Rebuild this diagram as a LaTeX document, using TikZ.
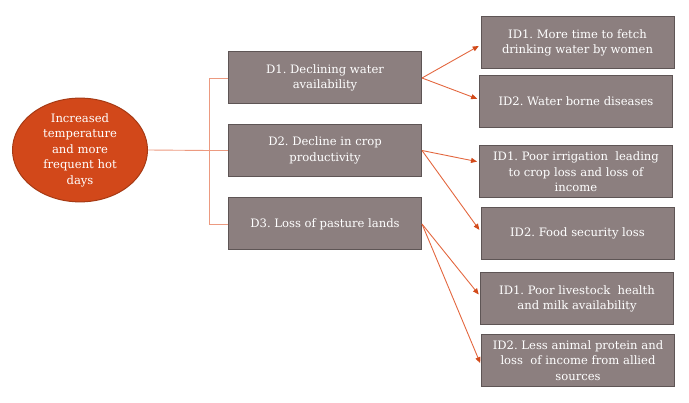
\documentclass[tikz,border=0pt]{standalone}
\usepackage{fontspec}
\setmainfont{DejaVu Serif}
\frenchspacing
\usetikzlibrary{arrows.meta,shapes.geometric}
\definecolor{boxfill}{HTML}{8C7F7F}
\definecolor{boxline}{HTML}{5E5555}
\definecolor{ellfill}{HTML}{D2481A}
\definecolor{ellline}{HTML}{A63A14}
\definecolor{treeline}{HTML}{EC9A80}
\definecolor{arrline}{HTML}{E3673F}
\definecolor{arrtip}{HTML}{D24A1A}
\begin{document}
\begin{tikzpicture}[x=1pt,y=-1pt,
  box/.style={draw=boxline, line width=1pt, fill=boxfill, text=white, align=center,
    font=\fontsize{11.6}{15.5}\selectfont, minimum width=193pt, minimum height=52pt, inner sep=2pt},
  ell/.style={ellipse, draw=ellline, line width=1pt, fill=ellfill, text=white, align=center,
    font=\fontsize{11.6}{15.5}\selectfont, minimum width=135pt, minimum height=94pt, inner sep=0pt},
  tree/.style={draw=treeline, line width=0.9pt},
  arr/.style={draw=arrline, line width=0.9pt, -{Triangle[length=6pt,width=5pt,color=arrtip]}, shorten >=2pt}]
\useasboundingbox (0,0) rectangle (689,403);
\node[ell] (e) at (80,150) {Increased\\temperature\\and more\\frequent hot\\days};
\node[box] (d1) at (325,78) {D1. Declining water\\availability};
\node[box] (d2) at (325,150.5) {D2. Decline in crop\\productivity};
\node[box] (d3) at (325,224) {D3. Loss of pasture lands};
\node[box] (w1) at (577.5,43) {ID1. More time to fetch\\drinking water by women};
\node[box] (w2) at (576,101.5) {ID2. Water borne diseases};
\node[box] (c1) at (576,172) {ID1. Poor irrigation\ \ leading\\to crop loss and loss of\\income};
\node[box] (c2) at (577.5,233.5) {ID2. Food security loss};
\node[box] (l1) at (577,299) {ID1. Poor livestock\ \ health\\and milk availability};
\node[box] (l2) at (578,360.5) {ID2. Less animal protein and\\loss\ \ of income from allied\\sources};
\coordinate (j) at (209,150.5);
\draw[tree] (e.east) -- (j);
\draw[tree] (d2.west) -- (j);
\draw[tree] (d1.west) -| (j);
\draw[tree] (d3.west) -| (j);
\draw[arr] (d1.east) -- ([yshift=-2pt]w1.west);
\draw[arr] (d1.east) -- ([yshift=2pt]w2.west);
\draw[arr] (d2.east) -- ([yshift=10pt]c1.west);
\draw[arr] (d2.east) -- ([yshift=2pt]c2.west);
\draw[arr] (d3.east) -- ([yshift=3pt]l1.west);
\draw[arr] (d3.east) -- ([yshift=-4.5pt]l2.west);
\end{tikzpicture}
\end{document}
